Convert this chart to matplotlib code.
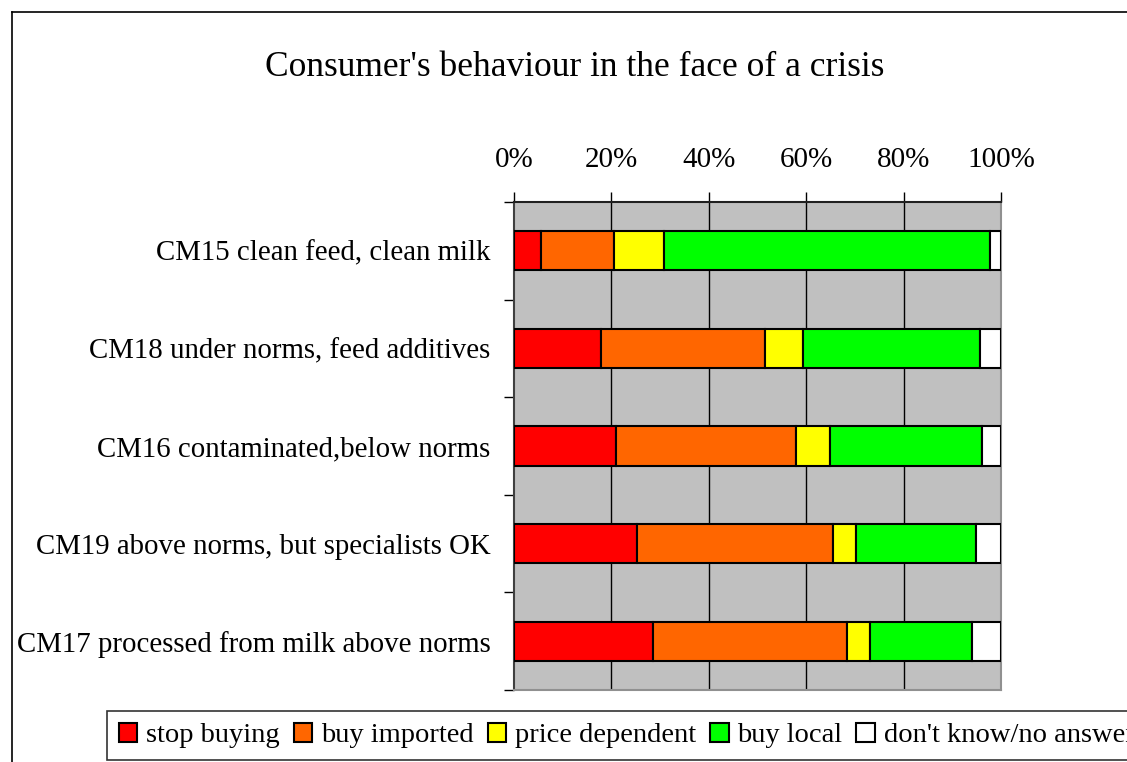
import numpy as np
import matplotlib
matplotlib.use('Agg')
import matplotlib.pyplot as plt
from matplotlib.lines import Line2D

plt.rcParams['font.family'] = ['Liberation Serif', 'DejaVu Serif']

categories = ['CM15 clean feed, clean milk',
              'CM18 under norms, feed additives',
              'CM16 contaminated,below norms',
              'CM19 above norms, but specialists OK',
              'CM17 processed from milk above norms']
stop_buying = [5.5, 17.9, 21.0, 25.3, 28.5]
buy_imported = [15.1, 33.6, 37.0, 40.3, 39.8]
price_dependent = [10.3, 7.8, 6.8, 4.7, 4.7]
buy_local = [66.8, 36.3, 31.2, 24.6, 21.1]
dont_know = [2.3, 4.4, 4.0, 5.1, 5.9]

series = [('stop buying', stop_buying, '#ff0000'),
          ('buy imported', buy_imported, '#ff6600'),
          ('price dependent', price_dependent, '#ffff00'),
          ('buy local', buy_local, '#00ff00'),
          ("don't know/no answer", dont_know, '#ffffff')]

fig = plt.figure(figsize=(11.27, 7.62), dpi=100)
ax = fig.add_axes([514/1127, 1-690/762, 487/1127, 488/762])
ax.set_facecolor('#c0c0c0')

y = np.arange(len(categories))
left = np.zeros(len(categories))
for name, vals, col in series:
    ax.barh(y, vals, left=left, height=0.4, color=col, edgecolor='black',
            linewidth=1.5, label=name, zorder=3)
    left = left + np.array(vals)

ax.set_xlim(0, 100)
ax.set_ylim(len(categories)-0.5, -0.5)

# vertical grid lines
for xv in [20, 40, 60, 80]:
    ax.axvline(xv, color='black', lw=1, zorder=1)

ax.xaxis.tick_top()
ax.set_xticks([0, 20, 40, 60, 80, 100])
ax.set_xticklabels(['0%', '20%', '40%', '60%', '80%', '100%'])
ax.tick_params(axis='x', direction='out', length=7, width=1, pad=14, labelsize=21)

ax.set_yticks(y)
ax.set_yticklabels(categories)
ax.tick_params(axis='y', which='major', length=0, pad=17, labelsize=20.8)
ax.set_yticks(np.arange(-0.5, len(categories)), minor=True)
ax.tick_params(axis='y', which='minor', direction='out', length=7, width=1)

ax.spines['left'].set_color('#404040')
ax.spines['top'].set_color('#202020')
ax.spines['right'].set_color('#909090')
ax.spines['bottom'].set_color('#909090')
for s in ax.spines.values():
    s.set_linewidth(1.5)

fig.text(575/1127, 1-68/762, "Consumer's behaviour in the face of a crisis",
         ha='center', va='center', fontsize=25.5)

# outer chart border (left and top only visible)
fig.add_artist(Line2D([12/1127, 12/1127], [0, 1-12/762], color='black', lw=1.2))
fig.add_artist(Line2D([12/1127, 1], [1-12/762, 1-12/762], color='black', lw=1.2))

leg = fig.legend(loc='lower left', bbox_to_anchor=(107/1127, 2/762), ncol=5,
                 fontsize=20.5, frameon=True, fancybox=False, edgecolor='black',
                 handlelength=0.65, handleheight=0.65, handletextpad=0.3,
                 columnspacing=0.5, borderpad=0.42, borderaxespad=0)
leg.get_frame().set_linewidth(1.2)

fig.savefig('out.png', dpi=100)
